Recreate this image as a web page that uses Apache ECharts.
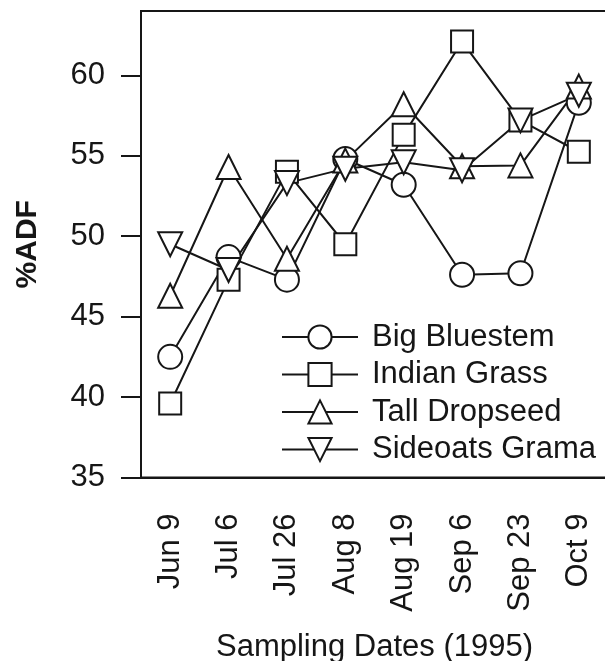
<!DOCTYPE html>
<html>
<head>
<meta charset="utf-8">
<script src="https://cdn.jsdelivr.net/npm/echarts@6/dist/echarts.min.js"></script>
<style>
html,body{margin:0;padding:0;background:#fff;}
#chart{width:605px;height:661px;}
</style>
</head>
<body>
<div id="chart"></div>
<script>
var categories = ['Jun 9', 'Jul 6', 'Jul 26', 'Aug 8', 'Aug 19', 'Sep 6', 'Sep 23', 'Oct 9'];
var bigBluestem = [42.5, 48.7, 47.3, 54.8, 53.2, 47.6, 47.7, 58.3];
var indianGrass = [39.6, 47.3, 54.0, 49.5, 56.3, 62.1, 57.2, 55.25];
var tallDropseed = [46.3, 54.3, 48.6, 54.7, 58.2, 54.35, 54.4, 59.3];
var sideoatsGrama = [49.5, 47.9, 53.3, 54.2, 54.6, 54.1, 57.2, 58.8];
var seriesNames = ['Big Bluestem', 'Indian Grass', 'Tall Dropseed', 'Sideoats Grama'];
var yTicks = [35, 40, 45, 50, 55, 60];

var FONT = "'Liberation Sans', Arial, sans-serif";
var INK = '#161616';
var downTri = 'path://M0,0L2,0L1,2Z';

function mkSeries(name, data, symbol, size) {
  return {
    name: name,
    type: 'line',
    data: data,
    symbol: symbol,
    symbolSize: size,
    showAllSymbol: true,
    lineStyle: {color: INK, width: 2},
    itemStyle: {color: '#fff', borderColor: INK, borderWidth: 2},
    emphasis: {disabled: true},
    animation: false
  };
}

var chart = echarts.init(document.getElementById('chart'), null, {renderer: 'canvas'});
chart.setOption({
  backgroundColor: '#fff',
  animation: false,
  grid: {
    left: 141, top: 11, width: 467, height: 466.5,
    containLabel: false,
    outerBoundsMode: 'none',
    show: true, borderColor: INK, borderWidth: 2, backgroundColor: 'transparent'
  },
  legend: {
    orient: 'vertical',
    left: 281, top: 321.5,
    padding: 0,
    itemWidth: 76, itemHeight: 29, itemGap: 6.5,
    data: seriesNames,
    textStyle: {fontFamily: FONT, fontSize: 31, color: INK, padding: [0, 0, 0, 9]},
    selectedMode: false
  },
  xAxis: {
    type: 'category',
    data: categories,
    boundaryGap: true,
    name: 'Sampling Dates (1995)',
    nameLocation: 'middle',
    nameGap: 154,
    nameTextStyle: {fontFamily: FONT, fontSize: 31, color: INK},
    axisLine: {lineStyle: {color: INK, width: 2}},
    axisTick: {alignWithLabel: true, length: 20, lineStyle: {color: INK, width: 2}},
    axisLabel: {rotate: 90, margin: 36, fontFamily: FONT, fontSize: 31, color: INK, interval: 0},
    splitLine: {show: false}
  },
  yAxis: {
    type: 'value',
    min: 35, max: 64,
    name: '%ADF',
    nameLocation: 'middle',
    nameGap: 98,
    nameTextStyle: {fontFamily: FONT, fontSize: 30, fontWeight: 'bold', color: INK},
    axisLine: {show: true, lineStyle: {color: INK, width: 2}},
    axisTick: {show: true, length: 20, customValues: yTicks, lineStyle: {color: INK, width: 2}},
    axisLabel: {margin: 36, customValues: yTicks, fontFamily: FONT, fontSize: 31, color: INK},
    splitLine: {show: false}
  },
  series: [
    mkSeries(seriesNames[0], bigBluestem, 'circle', 24),
    mkSeries(seriesNames[1], indianGrass, 'rect', 22),
    mkSeries(seriesNames[2], tallDropseed, 'triangle', 24),
    mkSeries(seriesNames[3], sideoatsGrama, downTri, 24)
  ]
});
</script>
</body>
</html>
